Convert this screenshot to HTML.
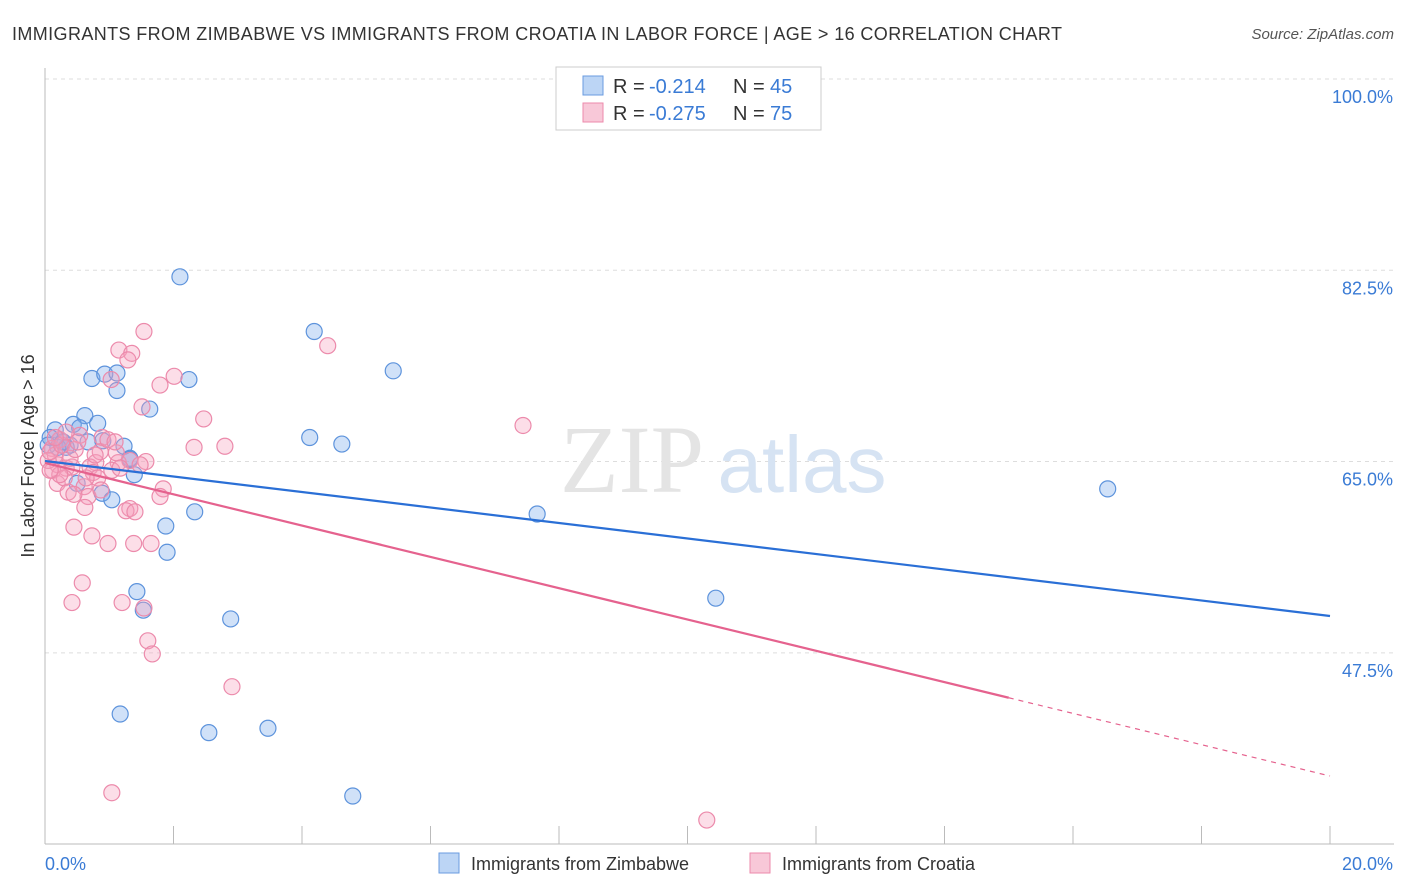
<!DOCTYPE html>
<html><head><meta charset="utf-8"><style>
body{margin:0;background:#fff;font-family:"Liberation Sans",sans-serif}
</style></head><body>
<svg id="c" width="1406" height="892" style="display:block"></svg>
<script>
const blueX=[2.10,4.19,5.42,0.73,0.93,1.12,1.12,2.24,1.63,0.62,0.82,0.44,0.16,0.23,0.08,0.39,0.33,0.67,1.23,0.90,1.32,1.39,4.12,4.62,0.50,0.89,1.04,2.33,1.88,1.90,7.66,16.54,1.43,1.53,2.89,10.44,1.17,2.55,3.47,4.79,0.20,0.54,1.32,0.28,0.05];
const blueY=[81.9,76.9,73.3,72.6,73.0,73.1,71.5,72.5,69.8,69.2,68.5,68.4,67.9,67.0,67.2,66.5,66.3,66.8,66.4,66.9,65.3,63.8,67.2,66.6,63.0,62.1,61.5,60.4,59.1,56.7,60.2,62.5,53.1,51.4,50.6,52.5,41.9,40.2,40.6,34.4,66.3,68.1,65.2,66.8,66.5];
const pinkX=[1.54,4.40,1.15,1.35,1.29,1.03,2.01,1.79,1.51,2.47,7.44,2.32,2.80,0.89,0.54,0.23,0.11,0.16,0.33,0.20,0.42,0.79,0.70,1.14,1.32,1.57,1.11,0.86,0.39,0.12,0.19,0.30,0.36,0.61,0.67,0.75,0.82,1.04,1.17,0.62,0.45,0.87,1.32,1.26,1.40,1.84,1.79,0.45,0.73,0.98,1.38,1.65,0.58,0.42,1.20,1.54,1.60,1.67,2.91,1.04,10.30,0.05,0.08,0.26,0.98,0.47,0.23,0.64,1.48,0.33,0.51,0.08,0.78,1.09,0.16];
const pinkY=[76.9,75.6,75.2,74.9,74.3,72.5,72.8,72.0,70.0,68.9,68.3,66.3,66.4,67.2,67.4,67.0,66.2,65.6,64.4,64.7,64.5,64.9,64.5,64.9,65.1,65.0,65.8,65.9,65.3,64.2,63.0,63.5,62.2,62.7,61.8,64.0,63.5,64.2,64.4,60.8,62.0,62.4,60.7,60.5,60.4,62.5,61.8,59.0,58.2,57.5,57.5,57.5,53.9,52.1,52.1,51.6,48.6,47.4,44.4,34.7,32.2,65.1,65.9,66.5,67.0,66.1,63.8,63.5,64.7,67.7,66.8,64.2,65.6,66.8,67.2];
const blueTrend=[65.05,50.87];
const pinkTrend=[64.87,36.23];
const pinkSolidEnd=15.0;
const yTicks=[100,82.5,65,47.5];
const yLabels=["100.0%","82.5%","65.0%","47.5%"];

const NS="http://www.w3.org/2000/svg",svg=document.getElementById('c');
const X=v=>45+v*64.25, Y=v=>79+(100-v)*10.93;
function el(t,a,p){const e=document.createElementNS(NS,t);for(const k in a)e.setAttribute(k,a[k]);(p||svg).appendChild(e);return e;}
function tx(x,y,s,a,p){const e=el('text',Object.assign({x:x,y:y},a),p);e.textContent=s;return e;}

let t=tx(12,40,"IMMIGRANTS FROM ZIMBABWE VS IMMIGRANTS FROM CROATIA IN LABOR FORCE | AGE > 16 CORRELATION CHART",{'font-size':18,fill:'#333',textLength:1050});

t=tx(1394,39,"Source: ZipAtlas.com",{'font-size':15,fill:'#555','font-style':'italic','text-anchor':'end'});


yTicks.forEach((v,i)=>{
 const g=el('line',{x1:45,x2:1394,y1:Y(v),y2:Y(v),stroke:'#ddd','stroke-dasharray':'4,4'});
 
 const l=tx(1393,Y(v)+24,yLabels[i],{'font-size':18,fill:'#3a7bd5','text-anchor':'end'});
 
});
let a=el('line',{x1:45,x2:45,y1:68,y2:844,stroke:'#bbb'});
a=el('line',{x1:45,x2:1394,y1:844,y2:844,stroke:'#bbb'});
for(let i=1;i<=10;i++){const k=el('line',{x1:X(i*2),x2:X(i*2),y1:826,y2:844,stroke:'#bbb'});}
t=tx(45,870,"0.0%",{'font-size':18,fill:'#3a7bd5'});
t=tx(1393,870,"20.0%",{'font-size':18,fill:'#3a7bd5','text-anchor':'end'});
t=tx(0,0,"In Labor Force | Age > 16",{'font-size':18,fill:'#333','text-anchor':'middle',transform:'translate(34,456) rotate(-90)'});

t=tx(632,492,"ZIP",{'font-size':96,fill:'#e4e4e4','font-family':'Liberation Serif','text-anchor':'middle'});
t=tx(802,492,"atlas",{'font-size':80,fill:'#d6e3f3','text-anchor':'middle'});

blueX.forEach((v,i)=>{const c=el('circle',{cx:X(v),cy:Y(blueY[i]),r:8,fill:'rgba(120,170,235,0.35)',stroke:'#5d93dc','stroke-width':1.2});
});
pinkX.forEach((v,i)=>{const c=el('circle',{cx:X(v),cy:Y(pinkY[i]),r:8,fill:'rgba(245,160,190,0.35)',stroke:'#ec8aab','stroke-width':1.2});
});

let l=el('line',{x1:X(0),y1:Y(blueTrend[0]),x2:X(20),y2:Y(blueTrend[1]),stroke:'#2a6fd6','stroke-width':2.2});

const pAt=x=>pinkTrend[0]+(pinkTrend[1]-pinkTrend[0])*x/20;
l=el('line',{x1:X(0),y1:Y(pinkTrend[0]),x2:X(pinkSolidEnd),y2:Y(pAt(pinkSolidEnd)),stroke:'#e5628e','stroke-width':2.2});

l=el('line',{x1:X(pinkSolidEnd),y1:Y(pAt(pinkSolidEnd)),x2:X(20),y2:Y(pinkTrend[1]),stroke:'#e5628e','stroke-width':1.2,'stroke-dasharray':'5,5'});


const lg=el('g',{});
el('rect',{x:556,y:67,width:265,height:63,fill:'#fff',stroke:'#ccc'},lg);
el('rect',{x:583,y:76,width:20,height:19,fill:'#bcd5f5',stroke:'#6a9be0'},lg);
el('rect',{x:583,y:103,width:20,height:19,fill:'#f8c8d8',stroke:'#ec8aab'},lg);
[[93,"-0.214","45"],[120,"-0.275","75"]].forEach(r=>{
 tx(613,r[0],"R = ",{'font-size':20,fill:'#333'},lg);
 tx(649,r[0],r[1],{'font-size':20,fill:'#3a7bd5'},lg);
 tx(733,r[0],"N = ",{'font-size':20,fill:'#333'},lg);
 tx(770,r[0],r[2],{'font-size':20,fill:'#3a7bd5'},lg);
});
const bl=el('g',{});
el('rect',{x:439,y:853,width:20,height:20,fill:'#bcd5f5',stroke:'#6a9be0'},bl);
tx(471,870,"Immigrants from Zimbabwe",{'font-size':18,fill:'#333'},bl);
el('rect',{x:750,y:853,width:20,height:20,fill:'#f8c8d8',stroke:'#ec8aab'},bl);
tx(782,870,"Immigrants from Croatia",{'font-size':18,fill:'#333'},bl);
</script>
</body></html>
